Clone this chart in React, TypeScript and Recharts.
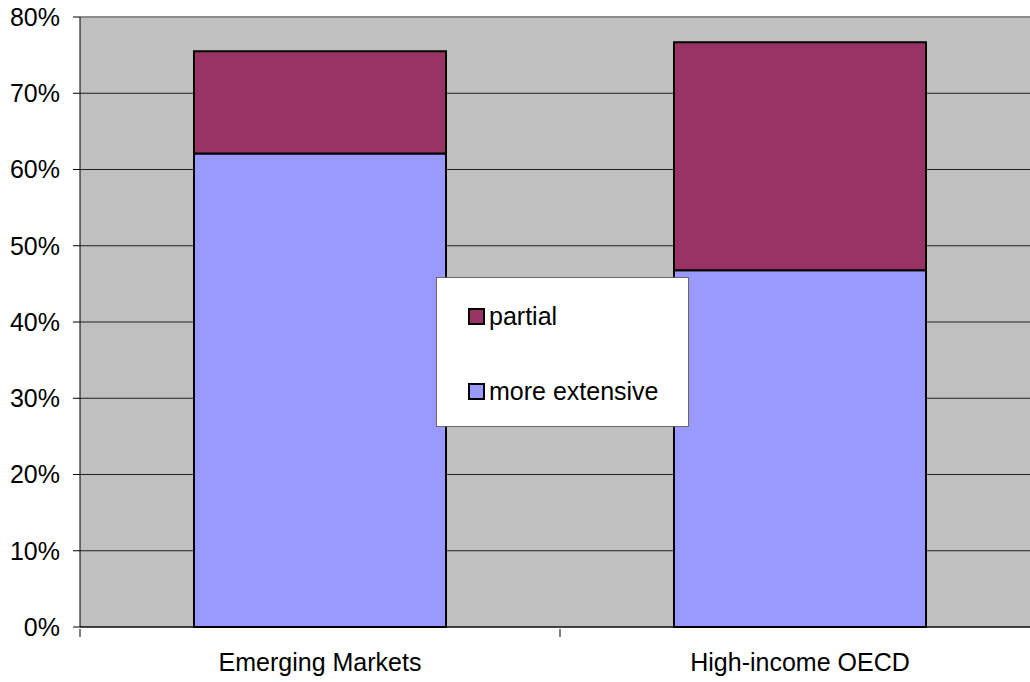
import {
  Bar,
  BarChart,
  CartesianGrid,
  ReferenceLine,
  XAxis,
  YAxis,
} from "recharts";

const categories = ["Emerging Markets", "High-income OECD"];
const moreExtensive = [0.621, 0.468];
const partial = [0.134, 0.299];
const yTicks = [0, 0.1, 0.2, 0.3, 0.4, 0.5, 0.6, 0.7, 0.8];

const data = categories.map((name, i) => ({
  name,
  moreExtensive: moreExtensive[i],
  partial: partial[i],
}));

const FONT = "'Liberation Sans', Arial, sans-serif";
const BLUE = "#9999FF";
const PLUM = "#993366";

function pct(v: number) {
  return `${Math.round(v * 100)}%`;
}

function CategoryTick(props: any) {
  const { x, y, payload } = props;
  const half = 240;
  return (
    <g>
      <line x1={x - half} x2={x - half} y1={y - 6} y2={y + 2} stroke="#000" strokeWidth={1} />
      <text
        x={x}
        y={y + 36}
        textAnchor="middle"
        fontFamily={FONT}
        fontSize={25}
        fill="#000"
      >
        {payload.value}
      </text>
    </g>
  );
}

function LegendBox() {
  const items = [
    { label: "partial", color: PLUM },
    { label: "more extensive", color: BLUE },
  ];
  return (
    <div
      style={{
        position: "absolute",
        left: 436,
        top: 277,
        width: 253,
        height: 150,
        boxSizing: "border-box",
        background: "#fff",
        border: "1px solid #666",
        fontFamily: FONT,
        fontSize: 25,
        color: "#000",
      }}
    >
      {items.map((it, i) => (
        <div
          key={it.label}
          style={{
            position: "absolute",
            left: 31,
            top: 24 + i * 75,
            height: 28,
            display: "flex",
            alignItems: "center",
            whiteSpace: "nowrap",
          }}
        >
          <span
            style={{
              display: "inline-block",
              width: 13,
              height: 13,
              background: it.color,
              border: "2px solid #000",
              marginRight: 4,
            }}
          />
          {it.label}
        </div>
      ))}
    </div>
  );
}

export default function App() {
  return (
    <div
      style={{
        position: "absolute",
        left: 0,
        top: 0,
        width: 1030,
        height: 682,
        overflow: "hidden",
        background: "#fff",
      }}
    >
      <BarChart
        width={1040}
        height={682}
        data={data}
        margin={{ top: 17, right: 0, left: 0, bottom: 0 }}
        barSize={252}
      >
        <CartesianGrid vertical={false} fill="#C0C0C0" stroke="#222" strokeWidth={1} />
        <XAxis
          dataKey="name"
          height={55}
          axisLine={{ stroke: "#000", strokeWidth: 1 }}
          tickLine={false}
          tick={<CategoryTick />}
          interval={0}
        />
        <YAxis
          width={80}
          domain={[0, 0.8]}
          ticks={yTicks}
          tickFormatter={pct}
          axisLine={{ stroke: "#000", strokeWidth: 1 }}
          tickLine={{ stroke: "#000" }}
          tickSize={7}
          tickMargin={13}
          tick={{ fill: "#000", fontSize: 25, fontFamily: FONT }}
        />
        <ReferenceLine y={0.8} stroke="#8a8a8a" strokeWidth={2} />
        <Bar
          dataKey="moreExtensive"
          name="more extensive"
          stackId="a"
          fill={BLUE}
          stroke="#000"
          strokeWidth={2}
          isAnimationActive={false}
        />
        <Bar
          dataKey="partial"
          name="partial"
          stackId="a"
          fill={PLUM}
          stroke="#000"
          strokeWidth={2}
          isAnimationActive={false}
        />
      </BarChart>
      <LegendBox />
    </div>
  );
}
